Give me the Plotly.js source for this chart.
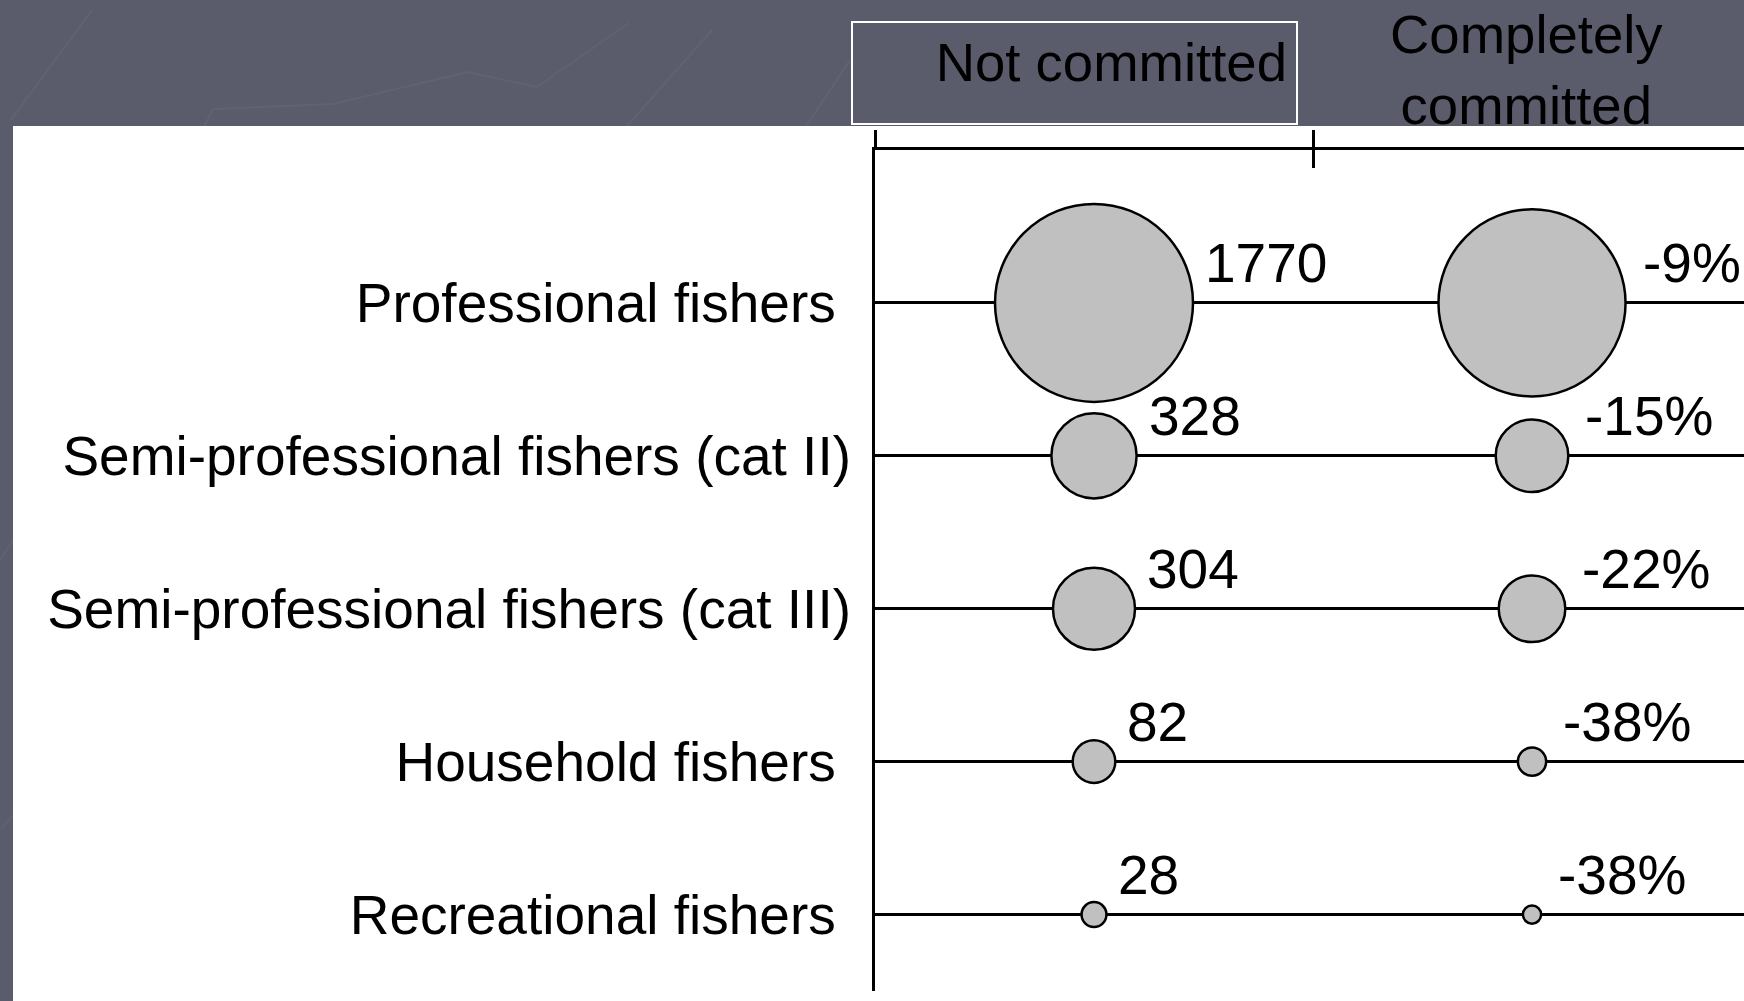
<!DOCTYPE html>
<html><head><meta charset="utf-8">
<script src="https://cdn.plot.ly/plotly-3.0.1.min.js"></script>
<style>html,body{margin:0;padding:0;background:#5a5c6c;overflow:hidden;} #chart{width:1744px;height:1001px;}</style>
</head><body><div id="chart"></div>
<script>
// ---- data ----
const categories = ["Professional fishers", "Semi-professional fishers (cat II)", "Semi-professional fishers (cat III)", "Household fishers", "Recreational fishers"];
const tickLabels = ["Professional fishers\u00a0", "Semi-professional fishers (cat II)", "Semi-professional fishers (cat III)", "Household fishers\u00a0", "Recreational fishers\u00a0"];
const columns = ["Not committed", "Completely committed"];
const columnHeaders = ["Not committed", "Completely<br>committed"];
const notCommitted = [1770, 328, 304, 82, 28];
const completelyCommitted = [1580, 238, 200, 36, 15];   // bubble sizes
const changeLabels = ["-9%", "-15%", "-22%", "-38%", "-38%"];

// ---- styling / layout geometry ----
const FONT = "Liberation Sans, Arial, sans-serif";
const W = 1744, H = 1001;
const M = { l: 875, r: 0, t: 150, b: 10 };
const LW = 3;
const MLW = 2.5;
const maxDiam = 198;
const sizeref = 2 * Math.max(...notCommitted) / (maxDiam * maxDiam);
const diam = v => Math.sqrt(2 * v / sizeref);
const px2x = p => (p - M.l) / (W - M.l - M.r);
const px2y = p => (H - M.b - p) / (H - M.t - M.b);

function bubbleTrace(col, values, xa) {
  return {
    type: "scatter", mode: "markers", xaxis: xa, yaxis: "y",
    x: categories.map(() => col), y: categories,
    marker: { size: values, sizemode: "area", sizeref: sizeref,
              color: "#c0c0c0", line: { color: "#000", width: MLW }, opacity: 1 },
    hoverinfo: "skip", showlegend: false, cliponaxis: false
  };
}

const traces = [bubbleTrace(columns[0], notCommitted, "x"), bubbleTrace(columns[1], completelyCommitted, "x2")];

const labelFont = { family: FONT, size: 55, color: "#000" };
const annotations = [];
categories.forEach((c, i) => {
  annotations.push({ x: columns[0], y: c, xref: "x", yref: "y", text: String(notCommitted[i]),
    showarrow: false, xanchor: "left", yanchor: "middle",
    xshift: diam(notCommitted[i]) / 2 + 10, yshift: 40, font: labelFont });
  annotations.push({ x: columns[1], y: c, xref: "x2", yref: "y", text: changeLabels[i],
    showarrow: false, xanchor: "left", yanchor: "middle",
    xshift: diam(completelyCommitted[i]) / 2 + 15, yshift: 40, font: labelFont });
});
// column headers
annotations.push({ x: columns[0], y: px2y(73), xref: "x", yref: "paper", text: columnHeaders[0],
  showarrow: false, xanchor: "center", yanchor: "middle", xshift: -20,
  width: 425, height: 82, align: "right", valign: "top", borderpad: 9,
  bordercolor: "#ffffff", borderwidth: 2,
  font: { family: FONT, size: 54.5, color: "#000" } });
annotations.push({ x: columns[1], y: px2y(70), xref: "x2", yref: "paper", text: columnHeaders[1],
  showarrow: false, xanchor: "center", yanchor: "middle", xshift: -6,
  font: { family: FONT, size: 54.5, color: "#000" } });

// faint decorative strokes of the slide background
const deco = [
  [[11, 120], [92, 10]],
  [[204, 127], [213, 109], [333, 104], [468, 72], [537, 87], [629, 23]],
  [[626, 127], [712, 30]],
  [[807, 125], [850, 60]],
  [[0, 560], [13, 540]],
  [[0, 830], [13, 815]]
];
const decoShapes = deco.map(pts => ({
  type: "path", xref: "paper", yref: "paper", layer: "below",
  path: pts.map((p, k) => (k ? "L" : "M") + px2x(p[0]).toFixed(4) + "," + px2y(p[1]).toFixed(4)).join(" "),
  line: { color: "rgba(255,255,255,0.04)", width: 2 }
}));

const xBase = {
  type: "category", categoryorder: "array", categoryarray: columns,
  range: [-0.5, 1.484], tickson: "boundaries", tickwidth: LW, tickcolor: "#000",
  showticklabels: false, showgrid: false, zeroline: false, fixedrange: true
};

const layout = {
  width: W, height: H,
  margin: { l: M.l, r: M.r, t: M.t, b: M.b, pad: 0 },
  paper_bgcolor: "#5a5c6c", plot_bgcolor: "#ffffff",
  showlegend: false,
  font: { family: FONT, color: "#000" },
  xaxis: Object.assign({}, xBase, { side: "top", ticks: "outside", ticklen: 17,
    showline: true, linecolor: "#000", linewidth: LW, anchor: "y" }),
  xaxis2: Object.assign({}, xBase, { side: "top", ticks: "inside", ticklen: 18,
    showline: false, overlaying: "x", anchor: "y" }),
  yaxis: {
    type: "category", categoryorder: "array", categoryarray: categories,
    range: [4.5, -1],
    tickmode: "array", tickvals: categories, ticktext: tickLabels,
    ticks: "", ticklabelstandoff: 10,
    tickfont: labelFont,
    showgrid: true, gridcolor: "#000", gridwidth: LW, zeroline: false,
    showline: true, linecolor: "#000", linewidth: LW, fixedrange: true
  },
  shapes: [
    { type: "rect", xref: "paper", yref: "paper", layer: "below",
      x0: px2x(13), x1: 1.02, y0: -0.03, y1: px2y(126),
      fillcolor: "#ffffff", line: { width: 0 } }
  ].concat(decoShapes),
  annotations: annotations
};

Plotly.newPlot("chart", traces, layout, { staticPlot: true, displayModeBar: false });
</script>
</body></html>
